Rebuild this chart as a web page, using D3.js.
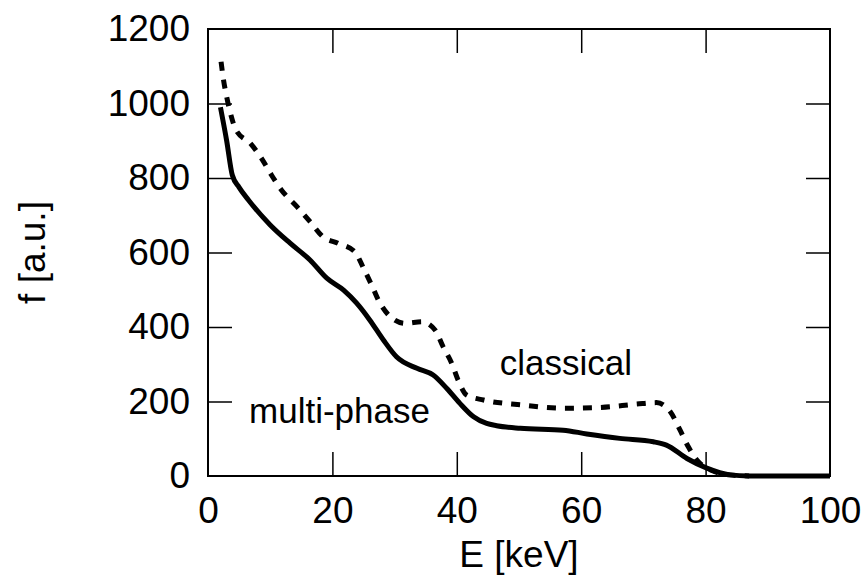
<!DOCTYPE html>
<html>
<head>
<meta charset="utf-8">
<script src="https://cdn.jsdelivr.net/npm/d3@7"></script>
<style>
  body { margin: 0; background: #fff; }
  text { font-family: "Liberation Sans", Arial, sans-serif; fill: #000; }
</style>
</head>
<body>
<div id="vis"></div>
<script>
// Frame and plot dimensions
const FRAME_WIDTH = 867;
const FRAME_HEIGHT = 576;
const MARGINS = {left: 208, right: 37, top: 29, bottom: 100};
const VIS_WIDTH = FRAME_WIDTH - MARGINS.left - MARGINS.right;
const VIS_HEIGHT = FRAME_HEIGHT - MARGINS.top - MARGINS.bottom;

// Data
const X_TICKS = [0, 20, 40, 60, 80, 100];
const Y_TICKS = [0, 200, 400, 600, 800, 1000, 1200];

// multi-phase (solid)
const MULTI_E = [2, 3, 3.9, 5, 6.5, 10, 13.2, 16.4, 19.1, 21.8, 23.9, 26, 28.2, 30.3, 33.6, 36.2, 38.4, 40.5, 42.7, 44.8, 46.4, 50.2, 57.1, 60.9, 66.2, 71.6, 73.7, 77, 80.2, 83.9, 87, 100];
const MULTI_F = [990, 900, 808, 775, 741, 674, 625, 580, 531, 499, 464, 419, 365, 320, 289, 271, 235, 195, 159, 141, 135, 128, 123, 113, 101, 92, 83, 47, 21, 3, 0, 0];

// classical (dashed)
const CLASS_E = [2.1, 2.5, 3, 3.6, 4.5, 6.8, 8.6, 10.2, 11.8, 14.3, 16.4, 18.5, 20.9, 23.6, 25, 26.3, 27.4, 29.3, 31.7, 34.4, 36.5, 37.8, 39.2, 40.2, 41.6, 44.3, 50.2, 57.1, 63, 68.9, 72.1, 74.3, 75.9, 77.2, 78.6, 80.2, 83.9, 87];
const CLASS_F = [1112, 1063, 1018, 974, 929, 893, 853, 808, 768, 723, 683, 642, 625, 602, 558, 513, 472, 428, 410, 414, 392, 347, 302, 258, 217, 204, 191, 182, 184, 193, 197, 173, 123, 79, 43, 21, 3, 0];

const FRAME = d3.select("#vis")
  .append("svg")
    .attr("width", FRAME_WIDTH)
    .attr("height", FRAME_HEIGHT);

const X_SCALE = d3.scaleLinear().domain([0, 100]).range([0, VIS_WIDTH]);
const Y_SCALE = d3.scaleLinear().domain([0, 1200]).range([VIS_HEIGHT, 0]);

const G = FRAME.append("g")
  .attr("transform", "translate(" + MARGINS.left + "," + MARGINS.top + ")");

// Axes with inward ticks on all four sides
const inner = X_TICKS.slice(1, -1);
const innerY = Y_TICKS.slice(1, -1);

const xBottom = G.append("g")
  .attr("transform", "translate(0," + VIS_HEIGHT + ")")
  .call(d3.axisBottom(X_SCALE).tickValues(X_TICKS).tickSize(-24).tickPadding(21).tickFormat(d3.format("d")));
xBottom.selectAll(".tick line").filter((d) => d === 0 || d === 100).remove();

G.append("g")
  .call(d3.axisTop(X_SCALE).tickValues(inner).tickSize(-24).tickFormat(""));

const yLeft = G.append("g")
  .call(d3.axisLeft(Y_SCALE).tickValues(Y_TICKS).tickSize(-24).tickPadding(18).tickFormat(d3.format("d")));
yLeft.selectAll(".tick line").filter((d) => d === 0 || d === 1200).remove();

G.append("g")
  .attr("transform", "translate(" + VIS_WIDTH + ",0)")
  .call(d3.axisRight(Y_SCALE).tickValues(innerY).tickSize(-24).tickFormat(""));

G.selectAll(".domain").remove();
G.selectAll(".tick line").attr("stroke", "#000").attr("stroke-width", 1.5);
G.selectAll(".tick text")
  .attr("font-family", "Liberation Sans, Arial, sans-serif")
  .style("font-size", "37px")
  .attr("fill", "#000");

// Plot frame
G.append("rect")
  .attr("x", 0).attr("y", 0)
  .attr("width", VIS_WIDTH).attr("height", VIS_HEIGHT)
  .attr("fill", "none")
  .attr("stroke", "#000")
  .attr("stroke-width", 2);

// Lines
const line = d3.line()
  .x((d) => X_SCALE(d[0]))
  .y((d) => Y_SCALE(d[1]))
  .curve(d3.curveMonotoneX);

G.append("path")
  .datum(CLASS_E.map((e, i) => [e, CLASS_F[i]]))
  .attr("d", line)
  .attr("fill", "none")
  .attr("stroke", "#000")
  .attr("stroke-width", 5)
  .attr("stroke-dasharray", "9,9");

G.append("path")
  .datum(MULTI_E.map((e, i) => [e, MULTI_F[i]]))
  .attr("d", line)
  .attr("fill", "none")
  .attr("stroke", "#000")
  .attr("stroke-width", 5)
  .attr("stroke-linejoin", "round");

// Curve labels
G.append("text")
  .attr("x", X_SCALE(46.9))
  .attr("y", Y_SCALE(272))
  .style("font-size", "35px")
  .text("classical");

G.append("text")
  .attr("x", X_SCALE(6.6))
  .attr("y", Y_SCALE(143))
  .style("font-size", "35px")
  .text("multi-phase");

// Axis titles
FRAME.append("text")
  .attr("x", MARGINS.left + VIS_WIDTH / 2)
  .attr("y", 567)
  .attr("text-anchor", "middle")
  .style("font-size", "37px")
  .text("E [keV]");

FRAME.append("text")
  .attr("transform", "translate(45," + (MARGINS.top + VIS_HEIGHT / 2) + ") rotate(-90)")
  .attr("text-anchor", "middle")
  .style("font-size", "37px")
  .text("f [a.u.]");
</script>
</body>
</html>
